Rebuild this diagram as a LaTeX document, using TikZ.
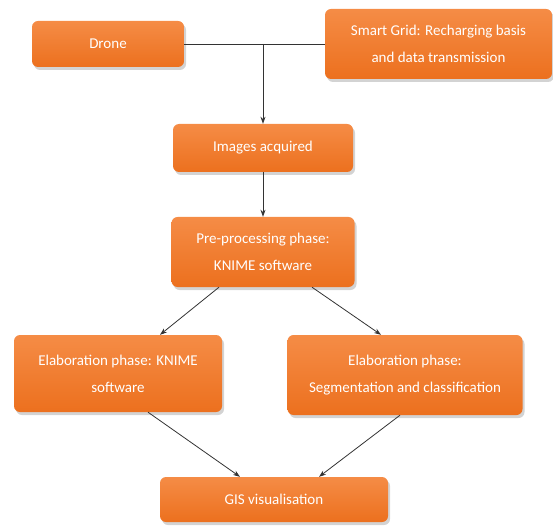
\documentclass[tikz,border=0pt]{standalone}
\usepackage{fontspec}
\setmainfont{Carlito}
\usetikzlibrary{shadows,arrows.meta,calc}
\definecolor{orTop}{RGB}{245,140,70}
\definecolor{orBot}{RGB}{236,112,30}
\tikzset{
  box/.style={rounded corners=6pt, top color=orTop, bottom color=orBot, draw=none,
    text=white, align=center, font=\fontsize{15}{27}\selectfont, inner sep=2pt,
    drop shadow={shadow xshift=2pt, shadow yshift=-3pt, fill=black!50, opacity=0.35}},
  conn/.style={draw=black!80, line width=0.8pt},
  arr/.style={conn, -{Stealth[length=7pt,width=5pt]}}
}
\begin{document}
\begin{tikzpicture}[x=1pt,y=-1pt]
\useasboundingbox (0,0) rectangle (553,526);
\node[box, minimum width=152pt, minimum height=46pt] (drone) at (108,44) {Drone};
\node[box, minimum width=227pt, minimum height=70pt] (grid) at (438.5,44) {Smart Grid: Recharging basis\\and data transmission};
\node[box, minimum width=180pt, minimum height=48pt] (img) at (263,148) {Images acquired};
\node[box, minimum width=183pt, minimum height=70pt] (pre) at (263,252) {Pre-processing phase:\\KNIME software};
\node[box, minimum width=208pt, minimum height=77pt] (elabL) at (118,373.5) {Elaboration phase: KNIME\\software};
\node[box, minimum width=235pt, minimum height=80pt] (elabR) at (405,375) {Elaboration phase:\\Segmentation and classification};
\node[box, minimum width=228pt, minimum height=45pt] (gis) at (274,499.5) {GIS visualisation};
\coordinate (j) at (img.north |- drone.east);
\draw[conn] (drone.east) -- (grid.west);
\draw[arr] (j) -- (img.north);
\draw[arr] (img.south) -- (pre.north);
\draw[arr] ([xshift=-44pt]pre.south) -- ([xshift=42pt]elabL.north);
\draw[arr] ([xshift=49pt]pre.south) -- ([xshift=-24pt]elabR.north);
\draw[arr] ([xshift=30pt]elabL.south) -- ([xshift=-34pt]gis.north);
\draw[arr] ([xshift=-5pt]elabR.south) -- ([xshift=45pt]gis.north);
\end{tikzpicture}
\end{document}
